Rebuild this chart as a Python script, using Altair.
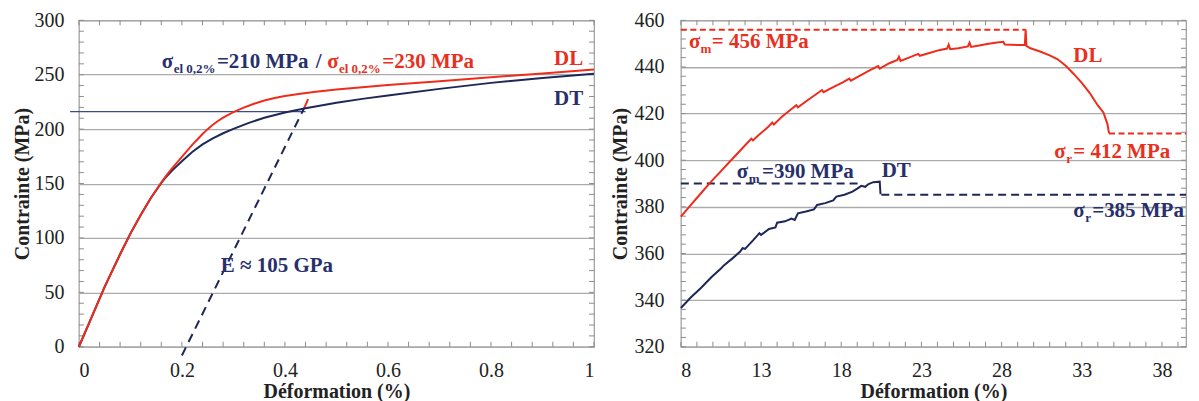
import altair as alt
import pandas as pd

RED = "#EE2C1C"
NAVY = "#1E2756"
TXT_RED = "#E8301E"
TXT_NAVY = "#27306A"
GRID = "#ABABAB"
FRAME = "#9C9C9C"
TICK = "#8C8C8C"
FONT = "Liberation Serif"

# ---------------- left panel data (strain %, stress MPa) ----------------
l_dl_x = [0, 0.02, 0.05, 0.08, 0.10, 0.12, 0.14, 0.16, 0.17, 0.18, 0.19, 0.20, 0.21, 0.22, 0.23, 0.24,
          0.25, 0.26, 0.27, 0.28, 0.29, 0.30, 0.32, 0.34, 0.36, 0.38, 0.40, 0.43, 0.46, 0.50, 0.55,
          0.60, 0.70, 0.80, 0.90, 1.00]
l_dl_y = [0, 22, 55, 85, 104, 121, 137, 151, 157.5, 163.5, 169, 174.5, 180, 185.5, 190.5, 195.5,
          200, 204, 207.5, 210.5, 213.2, 215.6, 219.8, 223.3, 226.3, 228.6, 230.4, 232.5, 234.3, 236.5, 238.5,
          240.5, 244, 247.7, 251.2, 254.7]
l_dt_x = [0, 0.02, 0.05, 0.08, 0.10, 0.12, 0.14, 0.16, 0.17, 0.18, 0.19, 0.20, 0.22, 0.24, 0.26, 0.28,
          0.30, 0.33, 0.36, 0.40, 0.44, 0.50, 0.55, 0.60, 0.70, 0.80, 0.90, 1.00]
l_dt_y = [0, 22, 55, 85, 104, 121, 137, 150.5, 156.5, 161.5, 166, 170.5, 179, 186, 191.5, 196.2,
          200.3, 205.8, 210.5, 215.3, 219.2, 224.2, 227.8, 231, 237, 242.5, 247, 251]
# modulus line (E ~ 105 GPa) and 0.2% yield marker line
l_e_x = [0.20, 0.438]
l_e_y = [-8, 220]
l_e_red_x = [0.438, 0.449]
l_e_red_y = [220, 232]
l_h_x = [-0.017, 0.44]
l_h_y = [216, 216]

# ---------------- right panel data ----------------
r_dl_x = [8.0, 8.6, 9.2, 9.8, 10.4, 11.0, 11.6, 12.2, 12.4, 12.5, 12.8, 13.4, 13.7, 13.8, 14.3, 14.9,
          15.2, 15.3, 15.9, 16.5, 16.8, 16.9, 17.5, 18.1, 18.5, 18.6, 19.2, 19.8, 20.3, 20.4, 21.0,
          21.5, 21.6, 21.7, 22.3, 22.8, 22.9, 23.5, 24.1, 24.6, 24.7, 24.8, 25.3, 25.9, 26.0, 26.1,
          26.6, 27.1, 27.6, 28.1, 28.2, 28.6, 29.0, 29.45, 29.5, 29.55, 29.8, 30.4, 31.0, 31.5, 32.0,
          32.5, 33.0, 33.5, 34.0, 34.35, 34.6, 34.7]
r_dl_y = [375.8, 380.6, 385.4, 390.2, 394.6, 399.0, 403.4, 407.8, 409.2, 408.5, 410.5, 414.0, 416.2, 415.3, 418.6, 422.0,
          423.6, 422.7, 425.7, 428.6, 430.1, 429.2, 431.3, 433.4, 435.0, 434.1, 436.4, 438.6, 440.4, 439.3, 441.6,
          443.0, 444.4, 442.6, 444.2, 445.6, 444.8, 446.0, 447.2, 447.9, 449.6, 447.6, 448.0, 448.8, 450.4, 448.6,
          449.2, 449.8, 450.4, 450.8, 449.6, 449.5, 449.4, 449.5, 456.0, 449.0, 448.0, 446.6, 445.0, 443.3, 440.5,
          437.0, 433.2, 428.8, 423.5, 420.5, 415.5, 411.5]
r_dt_x = [8.0, 8.6, 9.25, 9.9, 10.5, 10.7, 11.2, 11.7, 11.85, 12.0, 12.5, 12.9, 13.0, 13.5, 13.9, 14.0, 14.5,
          14.9, 15.1, 15.3, 15.8, 16.3, 16.5, 17.0, 17.5, 17.7, 18.2, 18.7, 19.0, 19.25, 19.5, 19.7, 20.0,
          20.4, 20.45]
r_dt_y = [336.6, 341.0, 345.2, 349.8, 353.6, 355.0, 357.8, 360.8, 362.3, 362.0, 365.6, 368.7, 368.0, 370.5, 371.2, 373.2, 373.8,
          375.0, 374.4, 377.2, 378.0, 378.9, 380.8, 381.6, 382.8, 384.4, 385.2, 386.5, 387.8, 389.0, 388.6, 389.8, 390.6,
          390.8, 385.4]
r_dl_max_x, r_dl_max_y = [8, 29.5], [456, 456]
r_dl_rup_x, r_dl_rup_y = [34.7, 39.5], [411.5, 411.5]
r_dt_max_x, r_dt_max_y = [8, 19.3], [390, 390]
r_dt_rup_x, r_dt_rup_y = [20.5, 39.5], [385.2, 385.2]

# axis tick labels
l_xticks = [0, 0.2, 0.4, 0.6, 0.8, 1]
l_yticks = [0, 50, 100, 150, 200, 250, 300]
r_xticks = [8, 13, 18, 23, 28, 33, 38]
r_yticks = [320, 340, 360, 380, 400, 420, 440, 460]
l_xminor = [round(i * 0.04, 2) for i in range(26)]
l_yminor = [i * 10 for i in range(31)]
r_xminor = list(range(8, 40))
r_yminor = [320 + 4 * i for i in range(36)]

LABEL_SIZE = 20
TITLE_SIZE = 20
SUB = 13


def make_panel(W, H, xdom, ydom, xvals, yvals, xminor, yminor, xfmt, ytitle_pad, ylabel_pad):
    common = dict(labelFont=FONT, labelFontSize=LABEL_SIZE, labelColor="#222222",
                  titleFont=FONT, titleFontSize=TITLE_SIZE, titleFontWeight="bold",
                  titleColor="#222222", ticks=False, domain=False)
    X = alt.X("x:Q", scale=alt.Scale(domain=xdom, nice=False, zero=False),
              axis=alt.Axis(values=xvals, format=xfmt, title="Déformation (%)", grid=False,
                            labelPadding=14, titlePadding=1, **common))
    Y = alt.Y("y:Q", scale=alt.Scale(domain=ydom, nice=False, zero=False),
              axis=alt.Axis(values=yvals, format="d", title="Contrainte (MPa)", grid=True,
                            gridColor=GRID, gridWidth=1.3, labelPadding=ylabel_pad,
                            titlePadding=ytitle_pad, **common))

    def line(xs, ys, color, width=2.0, dash=None):
        df = pd.DataFrame({"x": xs, "y": ys, "o": list(range(len(xs)))})
        kw = dict(color=color, strokeWidth=width)
        if dash:
            kw["strokeDash"] = dash
        return alt.Chart(df).mark_line(**kw).encode(x=X, y=Y, order="o:Q")

    def txt(x, y, text, color, size=21, dy=0, align="left"):
        df = pd.DataFrame({"x": [x], "y": [y], "t": [text]})
        return alt.Chart(df).mark_text(align=align, baseline="alphabetic", font=FONT,
                                       fontWeight="bold", fontSize=size, color=color,
                                       dy=dy).encode(x=X, y=Y, text="t:N")

    L = 5
    dfx = pd.DataFrame({"x": xminor})
    dfy = pd.DataFrame({"y": yminor})
    tk = dict(color=TICK, strokeWidth=1)
    ticks = [
        alt.Chart(dfx).mark_rule(**tk).encode(x=X, y=alt.value(0), y2=alt.value(L)),
        alt.Chart(dfx).mark_rule(**tk).encode(x=X, y=alt.value(H - L), y2=alt.value(H)),
        alt.Chart(dfy).mark_rule(**tk).encode(y=Y, x=alt.value(0), x2=alt.value(L)),
        alt.Chart(dfy).mark_rule(**tk).encode(y=Y, x=alt.value(W - L), x2=alt.value(W)),
    ]
    return X, Y, line, txt, ticks


# ---------------- left chart ----------------
LW, LH = 516, 327
X, Y, line, txt, ticks = make_panel(LW, LH, [0, 1], [0, 300], l_xticks, l_yticks,
                                    l_xminor, l_yminor, "~g", ytitle_pad=1, ylabel_pad=15)
left_layers = ticks + [
    line(l_h_x, l_h_y, "#3A4A8A", 1.3),
    line(l_e_x, l_e_y, NAVY, 2.0, [9, 6]),
    line(l_e_red_x, l_e_red_y, RED, 2.0, [9, 6]),
    line(l_dt_x, l_dt_y, NAVY, 2.0),
    line(l_dl_x, l_dl_y, RED, 2.0),
    txt(0.161, 256, "σ", TXT_NAVY),
    txt(0.184, 256, "el 0,2%", TXT_NAVY, SUB, 5),
    txt(0.268, 256, "=210 MPa", TXT_NAVY),
    txt(0.460, 256, "/", TXT_NAVY),
    txt(0.482, 256, "σ", TXT_RED),
    txt(0.505, 256, "el 0,2%", TXT_RED, SUB, 5),
    txt(0.589, 256, "=230 MPa", TXT_RED),
    txt(0.979, 258.7, "DL", TXT_RED, align="right"),
    txt(0.979, 222, "DT", TXT_NAVY, align="right"),
    txt(0.2755, 68.8, "E ≈ 105 GPa", TXT_NAVY),
]
left = alt.layer(*left_layers).properties(width=LW, height=LH)

# ---------------- right chart ----------------
RW, RH = 506, 327
X, Y, line, txt, ticks = make_panel(RW, RH, [8, 39.5], [320, 460], r_xticks, r_yticks,
                                    r_xminor, r_yminor, "d", ytitle_pad=3, ylabel_pad=17)
right_layers = ticks + [
    line(r_dl_max_x, r_dl_max_y, RED, 2.0, [6, 3.5]),
    line(r_dl_rup_x, r_dl_rup_y, RED, 2.0, [6, 3.5]),
    line(r_dt_max_x, r_dt_max_y, NAVY, 2.0, [8, 5]),
    line(r_dt_rup_x, r_dt_rup_y, NAVY, 2.0, [8, 5]),
    line(r_dl_x, r_dl_y, RED, 2.0),
    line(r_dt_x, r_dt_y, NAVY, 2.0),
    txt(8.50, 448.0, "σ", TXT_RED),
    txt(9.22, 448.0, "m", TXT_RED, SUB, 5),
    txt(9.93, 448.0, "= 456 MPa", TXT_RED),
    txt(11.49, 392.4, "σ", TXT_NAVY),
    txt(12.24, 392.4, "m", TXT_NAVY, SUB, 5),
    txt(13.06, 392.4, "=390 MPa", TXT_NAVY),
    txt(20.52, 392.8, "DT", TXT_NAVY),
    txt(32.47, 442.0, "DL", TXT_RED),
    txt(31.29, 400.9, "σ", TXT_RED),
    txt(32.03, 400.9, "r", TXT_RED, SUB, 5),
    txt(32.47, 400.9, "= 412 MPa", TXT_RED),
    txt(32.47, 375.7, "σ", TXT_NAVY),
    txt(33.22, 375.7, "r", TXT_NAVY, SUB, 5),
    txt(33.65, 375.7, "=385 MPa", TXT_NAVY),
]
right = alt.layer(*right_layers).properties(width=RW, height=RH)

chart = alt.hconcat(left, right, spacing=11).properties(
    padding={"left": 4, "top": 1, "right": 0, "bottom": 0}
).configure_view(stroke=FRAME, strokeWidth=1.2)

chart.save("out.html", embed_options={"renderer": "svg", "actions": False})
